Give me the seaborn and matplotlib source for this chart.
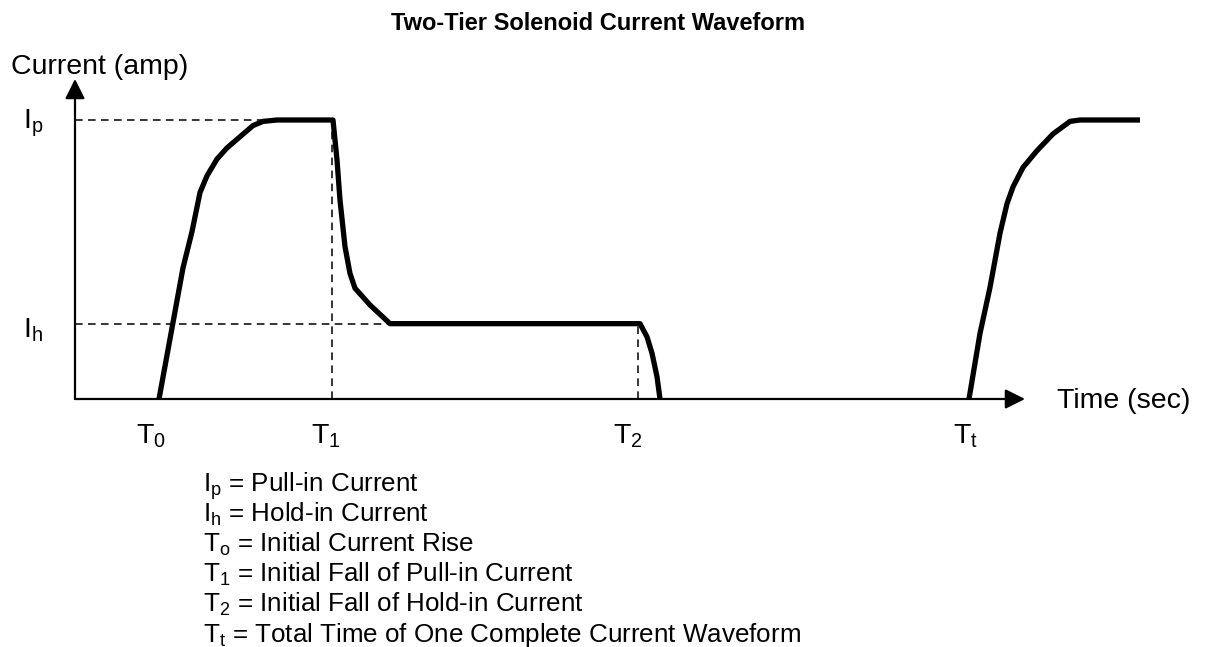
import matplotlib
matplotlib.use("Agg")
import matplotlib.pyplot as plt
import seaborn as sns
import numpy as np
import pandas as pd

# --- waveform points (time units, current normalised to Ip = 1)
pulse_t = [8.4, 10.8, 11.7, 12.5, 13.2, 14.2, 15.2, 16.5, 17.8, 18.8, 20.2, 25.8,
           26.2, 26.5, 27.0, 27.5, 28.0, 29.5, 31.5,
           56.5, 57.2, 57.7, 58.2, 58.5]
pulse_i = [0.0, 0.47, 0.60, 0.74, 0.80, 0.86, 0.90, 0.94, 0.98, 0.995, 1.0, 1.0,
           0.857, 0.713, 0.546, 0.45, 0.397, 0.337, 0.27,
           0.27, 0.223, 0.164, 0.08, 0.0]
next_t = [89.4, 90.5, 91.5, 92.5, 93.2, 93.8, 94.8, 96.2, 97.8, 99.5, 100.5, 106.5]
next_i = [0.0, 0.235, 0.40, 0.594, 0.70, 0.76, 0.83, 0.89, 0.95, 0.995, 1.0, 1.0]

i_pull = 1.0
i_hold = 0.27
t0, t1, t2, tt = 8.4, 25.7, 56.25, 89.4
t_axis_end = 95.0
i_axis_end = 1.147

time_labels = [r"$\mathregular{T_0}$", r"$\mathregular{T_1}$",
               r"$\mathregular{T_2}$", r"$\mathregular{T_t}$"]

legend_lines = [
    r"$\mathregular{I_p}$ = Pull-in Current",
    r"$\mathregular{I_h}$ = Hold-in Current",
    r"$\mathregular{T_o}$ = Initial Current Rise",
    r"$\mathregular{T_1}$ = Initial Fall of Pull-in Current",
    r"$\mathregular{T_2}$ = Initial Fall of Hold-in Current",
    r"$\mathregular{T_t}$ = Total Time of One Complete Current Waveform",
]

df = pd.DataFrame({
    "time": pulse_t + next_t,
    "current": pulse_i + next_i,
    "seg": ["a"] * len(pulse_t) + ["b"] * len(next_t),
})

sns.set_theme(style="white")
plt.rcParams["font.family"] = ["Liberation Sans", "DejaVu Sans"]
plt.rcParams["text.color"] = "black"

fig = plt.figure(figsize=(12.07, 6.47), dpi=100)
ax = fig.add_axes([0, 0, 1, 1])
ax.set_xlim(-7.5, 113.2)
ax.set_ylim(-0.8889, 1.4301)
ax.axis("off")

# guide lines
dash = dict(color="black", lw=1.1, dashes=(5, 3.5))
ax.plot([0, t1], [i_pull, i_pull], **dash)
ax.plot([0, 31.5], [i_hold, i_hold], **dash)
ax.plot([t1, t1], [0, i_pull], **dash)
ax.plot([t2, t2], [0, i_hold], **dash)

# waveform
sns.lineplot(data=df, x="time", y="current", units="seg", estimator=None,
             sort=False, color="black", lw=3.8, ax=ax, legend=False,
             solid_joinstyle="round", solid_capstyle="butt")

# axes with arrows
arrow = dict(arrowstyle="-|>,head_length=1.0,head_width=0.5", lw=1.6,
             color="black", shrinkA=0, shrinkB=0)
ax.annotate("", xy=(t_axis_end, 0), xytext=(0, 0), arrowprops=arrow)
ax.annotate("", xy=(0, i_axis_end), xytext=(0, 0), arrowprops=arrow)

lab = 20.5
ax.text(-6.4, 1.165, "Current (amp)", fontsize=lab, va="baseline")
ax.text(98.2, -0.032, "Time (sec)", fontsize=lab, va="baseline")
ax.text(-5.2, 0.971, r"$\mathregular{I_p}$", fontsize=lab, va="baseline")
ax.text(-5.2, 0.219, r"$\mathregular{I_h}$", fontsize=lab, va="baseline")

for x, s in zip([6.1, 23.6, 53.8, 87.8], time_labels):
    ax.text(x, -0.158, s, fontsize=lab, va="baseline")

for k, s in enumerate(legend_lines):
    ax.text(12.8, -0.333 - k * 0.1075, s, fontsize=18.7, va="baseline")

ax.text(52.35, 1.323, "Two-Tier Solenoid Current Waveform", fontsize=17,
        fontweight="bold", ha="center", va="baseline")

fig.savefig("out.png", dpi=100)
